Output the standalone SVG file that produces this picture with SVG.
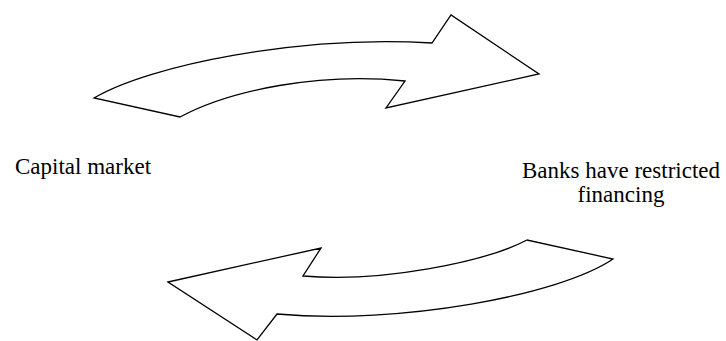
<svg xmlns="http://www.w3.org/2000/svg" width="726" height="341" viewBox="0 0 726 341">
<style>
.arrow{fill:#fff;stroke:#000;stroke-width:1.3;stroke-linejoin:miter}
.lbl{font-family:"Liberation Serif","Times New Roman",serif;font-size:23px;fill:#000}
</style>
<rect width="726" height="341" fill="#fff"/>
<g id="connectors">
<g id="arrow-top">
<path class="arrow" d="M94,98 C150,65 300,35 432,43 L451,15 L539,74 L386,108 L405,81 C320,72 230,90 180,117 Z"/>
</g>
<g id="arrow-bottom">
<path class="arrow" d="M168,282 L321,248 L303,276 C380,283 485,262 527,240 L613,259 C560,295 400,325 277,314 L257,340 Z"/>
</g>
</g>
<g id="node-capital">
<text class="lbl" x="15" y="174">Capital market</text>
</g>
<g id="node-banks">
<text class="lbl" x="621" y="177.5" text-anchor="middle">Banks have restricted</text>
<text class="lbl" x="621" y="201.5" text-anchor="middle">financing</text>
</g>
</svg>
